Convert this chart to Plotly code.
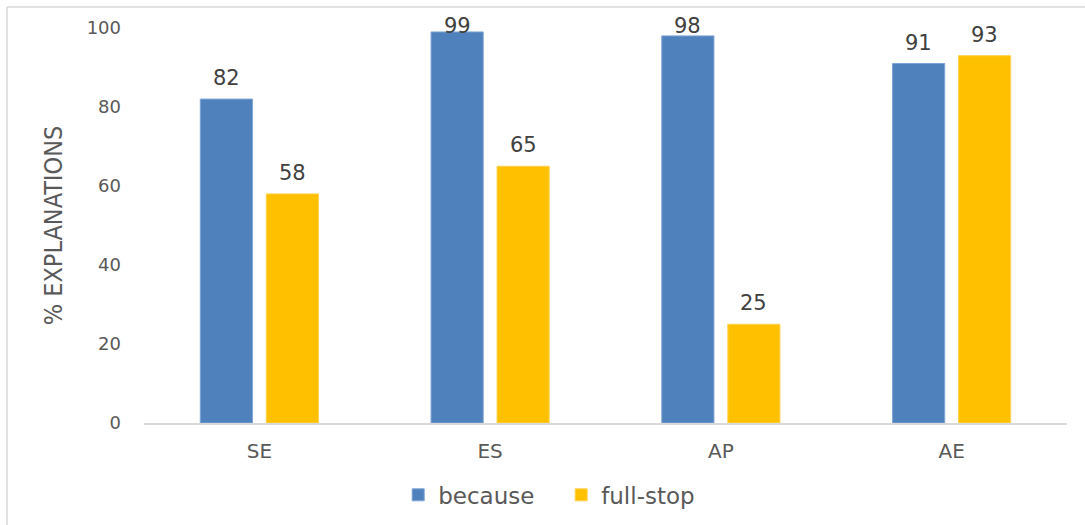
import plotly.graph_objects as go

categories = ["SE", "ES", "AP", "AE"]
because = [82, 99, 98, 91]
full_stop = [58, 65, 25, 93]
y_ticks = [0, 20, 40, 60, 80, 100]

BLUE = "#4F81BD"
GOLD = "#FFC000"
FONT = "'DejaVu Sans', 'Open Sans', sans-serif"
PX_PER_UNIT = 3.95  # plot height 395 px / 100 units

fig = go.Figure()
fig.add_trace(go.Bar(x=categories, y=because, name="because",
                     marker=dict(color=BLUE, line=dict(color="#7da3d4", width=1))))
fig.add_trace(go.Bar(x=categories, y=full_stop, name="full-stop",
                     marker=dict(color=GOLD, line=dict(color="#ffd24d", width=1))))

# data labels (Excel-style: kept inside the chart area near the top)
annotations = []
for series, shift in ((because, -33), (full_stop, 33)):
    for cat, v in zip(categories, series):
        ys = min(21, (100 - v) * PX_PER_UNIT + 2)
        annotations.append(dict(x=cat, y=v, xref="x", yref="y",
                                text=str(v), showarrow=False, xshift=shift,
                                yshift=ys, yanchor="middle",
                                font=dict(family=FONT, size=21, color="#404040")))

fig.update_layout(
    width=1085, height=525,
    margin=dict(l=144, r=18, t=28, b=102, autoexpand=False),
    paper_bgcolor="white", plot_bgcolor="white",
    barmode="group", bargap=0.428, bargroupgap=0.21,
    font=dict(family=FONT, color="#595959"),
    showlegend=True,
    legend=dict(orientation="h", x=0.452, xanchor="center", y=-0.182, yanchor="middle",
                font=dict(family=FONT, size=23, color="#595959"),
                itemwidth=30, entrywidth=118, tracegroupgap=0),
    annotations=annotations,
    shapes=[
        dict(type="line", xref="paper", yref="paper", x0=-0.1484, x1=1.03, y0=1.053, y1=1.053,
             line=dict(color="#d9d9d9", width=1.5)),
        dict(type="line", xref="paper", yref="paper", x0=-0.1484, x1=-0.1484, y0=-0.3, y1=1.053,
             line=dict(color="#d9d9d9", width=1.5)),
    ],
)
fig.update_xaxes(showgrid=False, showline=True, linecolor="#d9d9d9", linewidth=2,
                 ticks="", ticklabelstandoff=9,
                 tickfont=dict(family=FONT, size=20, color="#595959"))
fig.update_yaxes(range=[0, 100], tickvals=y_ticks, showgrid=False, zeroline=False,
                 showline=False, ticks="", ticklabelstandoff=22,
                 tickfont=dict(family=FONT, size=18, color="#595959"),
                 title=dict(text="% EXPLANATIONS", standoff=16,
                            font=dict(family="'Liberation Sans Narrow', 'DejaVu Sans Condensed', sans-serif",
                                      size=25, color="#595959")))
fig.update_traces(cliponaxis=False)

fig.write_html("out.html")
